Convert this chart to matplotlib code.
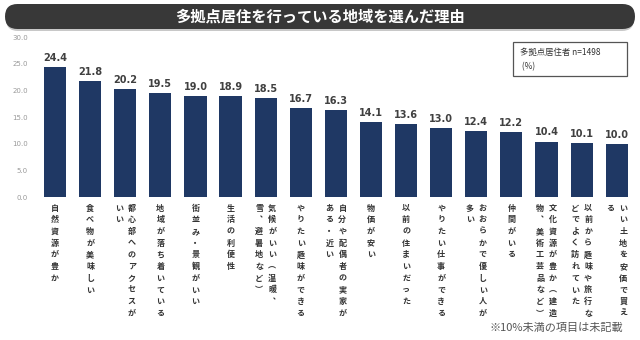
import matplotlib
matplotlib.use("Agg")
import matplotlib.pyplot as plt
from matplotlib.patches import FancyBboxPatch, Rectangle

plt.rcParams['font.family'] = ['Noto Sans CJK JP', 'DejaVu Sans']

# ------------------------------------------------------------------
# data
# ------------------------------------------------------------------
title = "多拠点居住を行っている地域を選んだ理由"
# "\n" = break into the next (left) vertical column
labels = [
    "自然資源が豊か",
    "食べ物が美味しい",
    "都心部へのアクセスが\nいい",
    "地域が落ち着いている",
    "街並み・景観がいい",
    "生活の利便性",
    "気候がいい（温暖、\n雪、避暑地など）",
    "やりたい趣味ができる",
    "自分や配偶者の実家が\nある・近い",
    "物価が安い",
    "以前の住まいだった",
    "やりたい仕事ができる",
    "おおらかで優しい人が\n多い",
    "仲間がいる",
    "文化資源が豊か（建造\n物、美術工芸品など）",
    "以前から趣味や旅行な\nどでよく訪れていた",
    "いい土地を安価で買え\nる",
]
values = [24.4, 21.8, 20.2, 19.5, 19.0, 18.9, 18.5, 16.7, 16.3,
          14.1, 13.6, 13.0, 12.4, 12.2, 10.4, 10.1, 10.0]
yticks = [0, 5, 10, 15, 20, 25, 30]
legend_lines = ["多拠点居住者 n=1498", " (%)"]
footnote = "※10%未満の項目は未記載"

# vertical-writing forms of punctuation
vert = {"（": "\ufe35", "）": "\ufe36", "、": "\ufe11"}

W, H = 640, 340
fig = plt.figure(figsize=(6.4, 3.4), dpi=100)
fig.patch.set_facecolor("white")

# axes placed in pixel terms: y=0 at px 197, y=30 at px 37
ax = fig.add_axes([35 / W, 1 - 197 / H, 600 / W, 160 / H])
x = list(range(len(values)))
ax.bar(x, values, width=0.63, color="#1f3864")
ax.set_xlim(-0.57, 16.52)
ax.set_ylim(0, 30)
ax.set_yticks(yticks)
ax.set_yticklabels([f"{v:.1f}" for v in yticks], fontsize=5,
                   color="#999999", family="DejaVu Sans")
ax.tick_params(axis="y", length=0, pad=5)
ax.set_xticks([])
for s in ax.spines.values():
    s.set_visible(False)

for xi, v in zip(x, values):
    ax.annotate(f"{v:.1f}", (xi, v), xytext=(0, 3), textcoords="offset points",
                ha="center", va="bottom", fontsize=7, fontweight="bold",
                color="#404040", family="DejaVu Sans")

# vertical category labels (columns run right to left)
tr = ax.get_xaxis_transform()
col_dx = 13.0 / 35.1
step = 11.7 / 160
top = -(208 - 197) / 160
for xi, lab in zip(x, labels):
    cols = lab.split("\n")
    n = len(cols)
    for ci, col in enumerate(cols):
        cx = xi + (n - 1) / 2 * col_dx - ci * col_dx
        for ri, ch in enumerate(col):
            ax.text(cx, top - ri * step, vert.get(ch, ch), transform=tr,
                    ha="center", va="center", fontsize=5.8,
                    fontweight="bold", color="#333333", clip_on=False)

# title bar
shadow = FancyBboxPatch((0.06, 3.09), 6.28, 0.24,
                        boxstyle="round,pad=0,rounding_size=0.12",
                        transform=fig.dpi_scale_trans, facecolor="#c8c8c8",
                        edgecolor="none")
fig.patches.append(shadow)
bar = FancyBboxPatch((0.05, 3.11), 6.30, 0.25,
                     boxstyle="round,pad=0,rounding_size=0.125",
                     transform=fig.dpi_scale_trans, facecolor="#383838",
                     edgecolor="none")
fig.patches.append(bar)
fig.text(0.5, 1 - 17 / H, title, ha="center", va="center", fontsize=11,
         fontweight="bold", color="white")

# legend box
box = Rectangle((513 / W, 1 - 76 / H), 114 / W, 34 / H,
                transform=fig.transFigure, facecolor="white",
                edgecolor="#555555", linewidth=0.9)
fig.patches.append(box)
fig.text(520 / W, 1 - 52 / H, legend_lines[0], ha="left", va="center",
         fontsize=6, color="#333333")
fig.text(520 / W, 1 - 67 / H, legend_lines[1], ha="left", va="center",
         fontsize=6, color="#333333")

fig.text(623 / W, 1 - 328 / H, footnote, ha="right", va="center",
         fontsize=8, color="#555555")

fig.savefig("out.png", dpi=100)
